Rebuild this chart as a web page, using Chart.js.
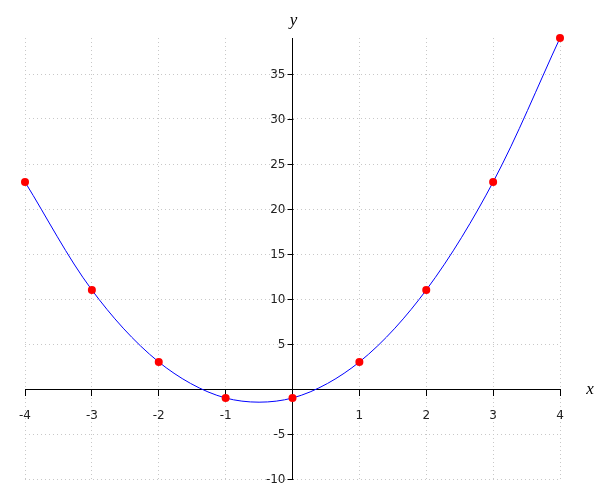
<!DOCTYPE html>
<html lang="en">
<head>
  <meta charset="UTF-8" />
  <title>y = 2x² + 2x - 1</title>
  <style>
    body { margin: 0; background: #fff; }
    #wrap { width: 600px; height: 500px; position: relative; }
  </style>
</head>
<body>
  <div id="wrap"><canvas id="chart"></canvas></div>

  <script src="https://cdn.jsdelivr.net/npm/chart.js"></script>
  <script>
    // points
    const xValues = [-4, -3, -2, -1, 0, 1, 2, 3, 4];
    const yValues = [23, 11, 3, -1, -1, 3, 11, 23, 39];
    const xRange = [-4, 4];
    const yRange = [-10, 39];

    const points = xValues.map((x, i) => ({ x: x, y: yValues[i] }));

    // axis names at the ends of the axes, and y tick marks + labels
    // (a centred y axis puts its labels right on the axis line, so they are drawn here)
    const axisText = {
      id: 'axisText',
      afterDraw(chart) {
        const ctx = chart.ctx;
        const xs = chart.scales.x, ys = chart.scales.y;
        const x0 = Math.round(xs.getPixelForValue(0)) + 0.5;
        ctx.save();
        ctx.strokeStyle = '#000';
        ctx.lineWidth = 1;
        ctx.fillStyle = '#222';
        ctx.font = '12px "DejaVu Sans"';
        ctx.textAlign = 'right';
        ctx.textBaseline = 'middle';
        ys.ticks.forEach(t => {
          if (t.value === 0) return;
          const py = Math.round(ys.getPixelForValue(t.value)) + 0.5;
          ctx.beginPath();
          ctx.moveTo(x0 - 6, py);
          ctx.lineTo(x0, py);
          ctx.stroke();
          ctx.fillText(String(t.value), x0 - 8, py);
        });
        ctx.fillStyle = '#000';
        ctx.font = 'italic 17px "Liberation Serif", "DejaVu Serif", serif';
        ctx.textAlign = 'center';
        ctx.fillText('x', chart.chartArea.right + 30, ys.getPixelForValue(0) + 1);
        ctx.fillText('y', x0, chart.chartArea.top - 17);
        ctx.restore();
      }
    };

    const hideZero = v => (v === 0 ? '' : v);

    new Chart(document.getElementById('chart'), {
      type: 'line',
      data: {
        datasets: [{
          data: points,
          borderColor: '#0000ff',
          borderWidth: 1,
          tension: 0.33,
          pointRadius: 4,
          pointBackgroundColor: '#ff0000',
          pointBorderColor: '#ff0000',
          pointBorderWidth: 0,
          clip: false
        }]
      },
      options: {
        responsive: true,
        maintainAspectRatio: false,
        animation: false,
        layout: { padding: { left: 25, right: 40, top: 38, bottom: 21 } },
        plugins: { legend: { display: false }, tooltip: { enabled: false } },
        scales: {
          x: {
            type: 'linear',
            position: { y: 0 },
            min: xRange[0], max: xRange[1],
            ticks: {
              stepSize: 1, callback: hideZero, color: '#222', padding: 14,
              font: { family: 'DejaVu Sans', size: 12 }, maxRotation: 0
            },
            grid: { color: '#c8c8c8', tickColor: '#000', tickLength: 6, tickBorderDash: [] },
            border: { color: '#000', width: 1, dash: [1, 3] }
          },
          y: {
            type: 'linear',
            position: { x: 0 },
            min: yRange[0], max: yRange[1],
            ticks: {
              stepSize: 5, includeBounds: false, color: 'rgba(0,0,0,0)',
              font: { family: 'DejaVu Sans', size: 12 }
            },
            grid: { color: '#c8c8c8', tickColor: 'rgba(0,0,0,0)', tickLength: 6, tickBorderDash: [] },
            border: { color: '#000', width: 1, dash: [1, 3] }
          }
        }
      },
      plugins: [axisText]
    });
  </script>
</body>
</html>
